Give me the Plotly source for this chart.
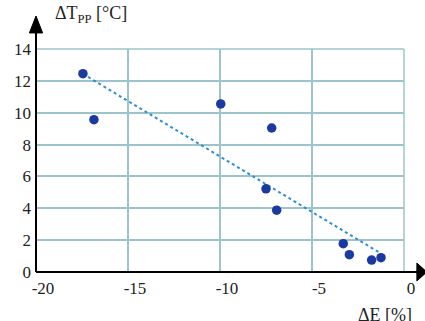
import numpy as np
import plotly.graph_objects as go

# Data
dE = [-17.45, -16.85, -9.96, -7.19, -7.5, -6.92, -3.30, -2.97, -1.76, -1.25]
dT = [12.45, 9.56, 10.55, 9.04, 5.22, 3.88, 1.78, 1.09, 0.75, 0.90]
x_ticks = [-20, -15, -10, -5, 0]
y_ticks = [0, 2, 4, 6, 8, 10, 12, 14]

# Linear trend line
slope, intercept = np.polyfit(dE, dT, 1)
tx = np.array([min(dE), max(dE)])
ty = slope * tx + intercept

serif = "Times New Roman"
grid_col = "#9cc4cc"

fig = go.Figure()
fig.add_trace(go.Scatter(x=tx, y=ty, mode="lines",
                         line=dict(color="#2b8fd3", width=2, dash="dot"),
                         hoverinfo="skip", showlegend=False))
fig.add_trace(go.Scatter(x=dE, y=dT, mode="markers",
                         marker=dict(color="#1a3aa0", size=9.5),
                         showlegend=False))

fig.update_layout(
    width=425, height=321,
    margin=dict(l=36, r=21, t=49, b=49, autoexpand=False),
    paper_bgcolor="white", plot_bgcolor="white",
    font=dict(family=serif, size=17, color="#222"),
    xaxis=dict(range=[-20, 0], tickvals=x_ticks, ticktext=[str(v) for v in x_ticks],
               showgrid=True, gridcolor=grid_col, gridwidth=1.5, automargin=False,
               zeroline=False, showline=False, ticks="", ticklabelstandoff=4,
               ticklabelshift=7,
               tickfont=dict(family=serif, size=17, color="#222")),
    yaxis=dict(range=[0, 14], tickvals=y_ticks, ticktext=[str(v) for v in y_ticks],
               showgrid=True, gridcolor=grid_col, gridwidth=1.5, automargin=False,
               zeroline=False, showline=False, ticks="", ticklabelstandoff=4,
               tickfont=dict(family=serif, size=17, color="#222")),
    shapes=[
        # right and top border
        dict(type="line", xref="paper", yref="paper", x0=1, x1=1, y0=0, y1=1,
             line=dict(color=grid_col, width=1.5)),
        dict(type="line", xref="paper", yref="paper", x0=0, x1=1, y0=1, y1=1,
             line=dict(color=grid_col, width=1.5)),
        # y axis line and arrow
        dict(type="line", xref="paper", yref="paper", x0=0, x1=0, y0=0, y1=1.08,
             line=dict(color="black", width=2)),
        dict(type="path", xref="paper", yref="paper",
             path="M -0.018 1.072 L 0.018 1.072 L 0 1.148 Z",
             fillcolor="black", line=dict(color="black", width=1)),
        # x axis line and arrow
        dict(type="line", xref="paper", yref="paper", x0=0, x1=1.04, y0=0, y1=0,
             line=dict(color="black", width=2)),
        dict(type="path", xref="paper", yref="paper",
             path="M 1.035 -0.04 L 1.035 0.04 L 1.062 0 Z",
             fillcolor="black", line=dict(color="black", width=1)),
    ],
    annotations=[
        dict(text="ΔT<sub>PP</sub> [°C]", xref="paper", yref="paper",
             x=0.045, y=1.095, xanchor="left", yanchor="bottom", showarrow=False,
             font=dict(family=serif, size=18, color="#222")),
        dict(text="ΔE [%]", xref="paper", yref="paper",
             x=1.027, y=-0.14, xanchor="right", yanchor="top", showarrow=False,
             font=dict(family=serif, size=18, color="#222")),
    ],
)

fig.write_html("out.html", config={"displayModeBar": False},
               post_script="document.body.style.margin='0';document.body.style.padding='0';")
